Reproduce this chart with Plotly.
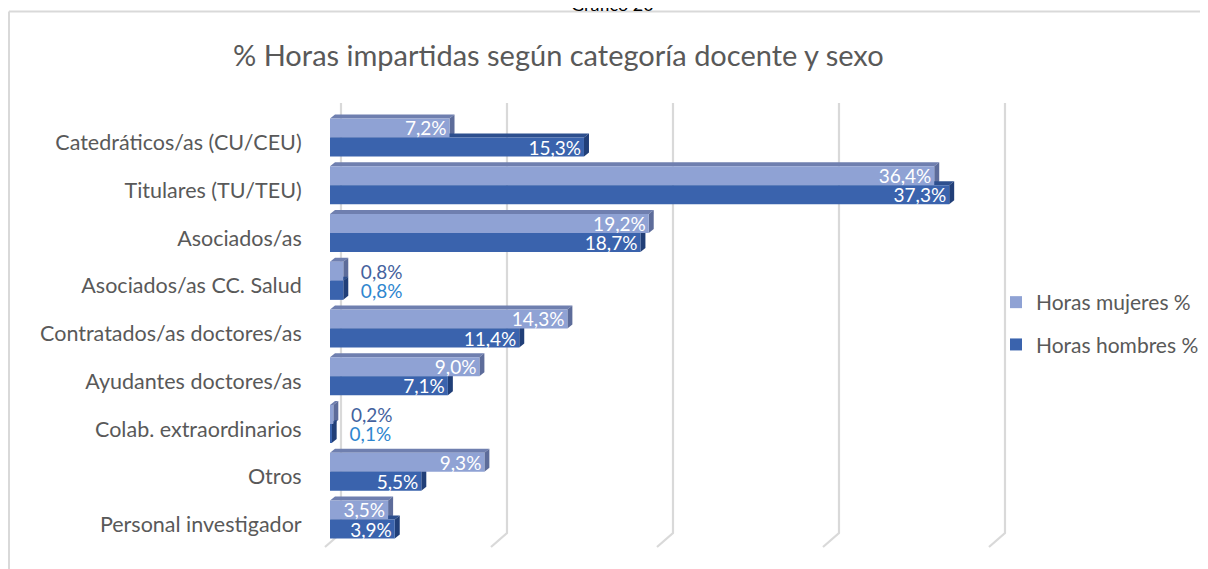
import plotly.graph_objects as go

# ---- data ----
categorias = ["Catedráticos/as (CU/CEU)", "Titulares (TU/TEU)", "Asociados/as",
              "Asociados/as CC. Salud", "Contratados/as doctores/as",
              "Ayudantes doctores/as", "Colab. extraordinarios", "Otros",
              "Personal investigador"]
horas_mujeres = [7.2, 36.4, 19.2, 0.8, 14.3, 9.0, 0.2, 9.3, 3.5]
horas_hombres = [15.3, 37.3, 18.7, 0.8, 11.4, 7.1, 0.1, 5.5, 3.9]
series_names = ["Horas mujeres %", "Horas hombres %"]
grid_values = [0, 10, 20, 30, 40]

FONT = "Lato"
GRAY = "#595959"
C_M = "#8FA2D4"
C_H = "#3A63AD"
C_M_TOP, C_M_SIDE = "#6F7FAF", "#5D6C9A"
C_H_TOP, C_H_SIDE = "#2D4F8E", "#213F78"

OFF = 8  # page body margin
W, H = 1208 - 2 * OFF, 569

def f(p):
    """screen pixel -> figure pixel"""
    return p - OFF

ML, MT = f(320), f(95)
PLOT_R, PLOT_B = f(1200), f(552)
MR, MB = W - PLOT_R, H - PLOT_B
PX_PER_UNIT = 16.6
X0_PX = f(330)
ROW_PX = 47.75
ROW0_PX = f(137.5)

x_range = [(ML - X0_PX) / PX_PER_UNIT, (PLOT_R - X0_PX) / PX_PER_UNIT]
def ypx(p):
    return (f(p) - ROW0_PX) / ROW_PX
y_range = [(PLOT_B - ROW0_PX) / ROW_PX, (MT - ROW0_PX) / ROW_PX]   # reversed

def xp(p):
    return (f(p) - ML) / (PLOT_R - ML)
def yp(p):
    return (PLOT_B - f(p)) / (PLOT_B - MT)

def fmt(v):
    return f"{v:.1f}%".replace(".", ",")

idx = list(range(len(categorias)))
fig = go.Figure()
out_col = {0: "#44629E", 1: "#2E86CF"}
for s, (vals, col) in enumerate([(horas_mujeres, C_M), (horas_hombres, C_H)]):
    texts, pos, tcol = [], [], []
    for v in vals:
        if v < 1:
            texts.append("\u00a0\u00a0\u00a0" + fmt(v))
            pos.append("outside")
            tcol.append(out_col[s])
        else:
            texts.append(fmt(v))
            pos.append("inside")
            tcol.append("white")
    fig.add_trace(go.Bar(
        y=idx, x=vals, orientation="h", name=series_names[s],
        marker=dict(color=col, line=dict(width=0)),
        text=texts, textposition=pos, insidetextanchor="end",
        textfont=dict(family=FONT, size=19, color=tcol),
        constraintext="none", cliponaxis=False, hoverinfo="skip",
        legendgroup=str(s),
    ))

shapes = []
gx = 11 / PX_PER_UNIT
for g in grid_values:
    shapes.append(dict(type="path", xref="x", yref="y", layer="below",
                       path=f"M{g+gx},{ypx(103)} L{g+gx},{ypx(533)} L{g-5/PX_PER_UNIT},{ypx(547)}",
                       line=dict(color="#D9D9D9", width=2.2)))

dx = 5 / PX_PER_UNIT
dy = -4 / ROW_PX
half = 0.4
for s, (vals, ctop, cside) in enumerate([(horas_mujeres, C_M_TOP, C_M_SIDE),
                                         (horas_hombres, C_H_TOP, C_H_SIDE)]):
    for i, v in enumerate(vals):
        y0 = i - half if s == 0 else i
        y1 = y0 + half
        top = f"M0,{y0} L{v},{y0} L{v+dx},{y0+dy} L{dx},{y0+dy} Z"
        side = f"M{v},{y0} L{v+dx},{y0+dy} L{v+dx},{y1+dy} L{v},{y1} Z"
        shapes.append(dict(type="path", xref="x", yref="y", layer="between", path=top,
                           fillcolor=ctop, line=dict(width=0)))
        shapes.append(dict(type="path", xref="x", yref="y", layer="between", path=side,
                           fillcolor=cside, line=dict(width=0)))

shapes.append(dict(type="line", xref="paper", yref="paper", x0=xp(9), x1=xp(1220),
                   y0=yp(11.5), y1=yp(11.5), line=dict(color="#D9D9D9", width=2)))
shapes.append(dict(type="line", xref="paper", yref="paper", x0=xp(9), x1=xp(9),
                   y0=yp(11.5), y1=yp(H + 20), line=dict(color="#D9D9D9", width=2)))

fig.update_layout(
    width=W, height=H,
    margin=dict(l=ML, r=MR, t=MT, b=MB, autoexpand=False),
    paper_bgcolor="white", plot_bgcolor="white",
    barmode="group", bargap=0.2, bargroupgap=0,
    uniformtext=dict(mode="show", minsize=19),
    shapes=shapes,
    showlegend=True,
    legend=dict(x=xp(996), y=yp(282), xanchor="left", yanchor="top",
                traceorder="grouped", tracegroupgap=12,
                font=dict(family=FONT, size=21, color=GRAY),
                bgcolor="rgba(0,0,0,0)"),
    annotations=[
        dict(text="% Horas impartidas según categoría docente y sexo",
             xref="paper", yref="paper", x=xp(558), y=yp(54), xanchor="center",
             yanchor="middle", showarrow=False,
             font=dict(family=FONT, size=29, color=GRAY)),
        dict(text="Gráfico 20", xref="paper", yref="paper", x=xp(612), y=yp(4),
             xanchor="center", yanchor="middle", showarrow=False,
             font=dict(family=FONT, size=18, color="black")),
    ],
    xaxis=dict(range=x_range, showgrid=False, zeroline=False, showticklabels=False,
               showline=False, fixedrange=True),
    yaxis=dict(range=y_range, tickvals=idx, ticktext=categorias, showgrid=False,
               zeroline=False, showline=False, ticks="outside", ticklen=13,
               tickcolor="rgba(0,0,0,0)", ticklabelshift=-5,
               tickfont=dict(family=FONT, size=21.5, color=GRAY)),
)

fig.write_html("out.html")
